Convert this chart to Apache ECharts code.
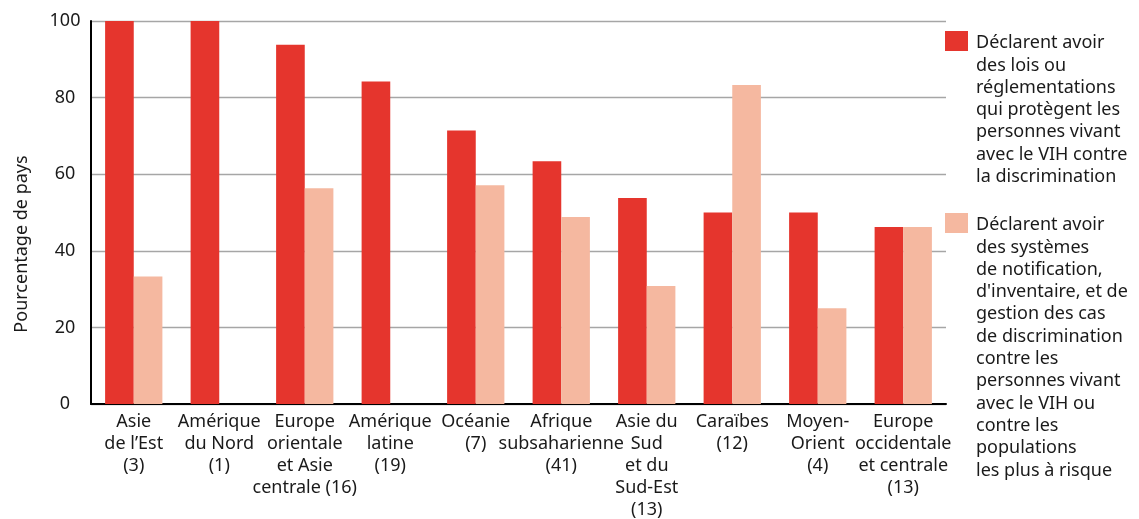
<!DOCTYPE html>
<html>
<head>
<meta charset="utf-8">
<script src="https://cdn.jsdelivr.net/npm/echarts@6/dist/echarts.min.js"></script>
<style>
html, body { margin: 0; padding: 0; background: #fff; }
#chart { width: 1139px; height: 519px; }
</style>
</head>
<body>
<div id="chart"></div>
<script>
// données
var categories = [
    'Asie\nde l’Est\n(3)',
    'Amérique\ndu Nord\n(1)',
    'Europe\norientale\net Asie\ncentrale (16)',
    'Amérique\nlatine\n(19)',
    'Océanie\n(7)',
    'Afrique\nsubsaharienne\n(41)',
    'Asie du\nSud\net du\nSud-Est\n(13)',
    'Caraïbes\n(12)',
    'Moyen-\nOrient\n(4)',
    'Europe\noccidentale\net centrale\n(13)'
];
var loisValues = [100, 100, 93.8, 84.2, 71.4, 63.4, 53.8, 50, 50, 46.2];
var systemesValues = [33.3, 0, 56.3, 0, 57.1, 48.8, 30.8, 83.3, 25, 46.2];
var yTicks = [0, 20, 40, 60, 80, 100];
var legendLois = ['Déclarent avoir', 'des lois ou', 'réglementations', 'qui protègent les',
    'personnes vivant', 'avec le VIH contre', 'la discrimination'];
var legendSystemes = ['Déclarent avoir', 'des systèmes', 'de notification,', "d'inventaire, et de",
    'gestion des cas', 'de discrimination', 'contre les', 'personnes vivant',
    'avec le VIH ou', 'contre les', 'populations', 'les plus à risque'];
var yName = 'Pourcentage de pays';

var RED = '#e5352d';
var SALMON = '#f5b8a0';
var FONT = 'Noto Sans';
var TXT = '#1a1a1a';

var myChart = echarts.init(document.getElementById('chart'));

function legendBlock(color, lines, top) {
    return [{
        type: 'rect',
        left: 945, top: top,
        shape: { width: 23, height: 20 },
        style: { fill: color }
    }, {
        type: 'text',
        left: 976, top: top + 1,
        style: {
            text: lines.join('\n'),
            font: '18px "' + FONT + '"',
            lineHeight: 22.3,
            fill: TXT
        }
    }];
}

var option = {
    animation: false,
    textStyle: { fontFamily: FONT },
    grid: { left: 91, right: 193, top: 21, bottom: 115, outerBoundsMode: 'none', containLabel: false },
    xAxis: {
        type: 'category',
        data: categories,
        axisLine: { lineStyle: { color: '#000', width: 2 } },
        axisTick: { length: 5, lineStyle: { color: '#000', width: 1.5 } },
        axisLabel: {
            interval: 0,
            margin: 7,
            color: TXT,
            fontSize: 18,
            lineHeight: 22,
            fontFamily: FONT
        }
    },
    yAxis: {
        type: 'value',
        min: 0,
        max: 100,
        interval: 20,
        axisLine: { show: true, lineStyle: { color: '#000', width: 2 } },
        axisTick: { show: false },
        splitLine: { lineStyle: { color: '#a6a6a6', width: 1.3 } },
        axisLabel: {
            align: 'center',
            margin: 26,
            color: TXT,
            fontSize: 18,
            fontFamily: FONT,
            formatter: function (v) { return yTicks.indexOf(v) >= 0 ? String(v) : ''; }
        }
    },
    series: [{
        name: legendLois.join(' '),
        type: 'bar',
        data: loisValues,
        barGap: 0,
        barCategoryGap: '33%',
        itemStyle: { color: RED }
    }, {
        name: legendSystemes.join(' '),
        type: 'bar',
        data: systemesValues,
        barGap: 0,
        barCategoryGap: '33%',
        itemStyle: { color: SALMON }
    }],
    graphic: [{
        type: 'text',
        x: 22, y: 244,
        rotation: Math.PI / 2,
        style: {
            text: yName,
            font: '18px "' + FONT + '"',
            fill: TXT,
            align: 'center',
            verticalAlign: 'middle'
        }
    }].concat(legendBlock(RED, legendLois, 31), legendBlock(SALMON, legendSystemes, 213))
};
myChart.setOption(option);
</script>
</body>
</html>
